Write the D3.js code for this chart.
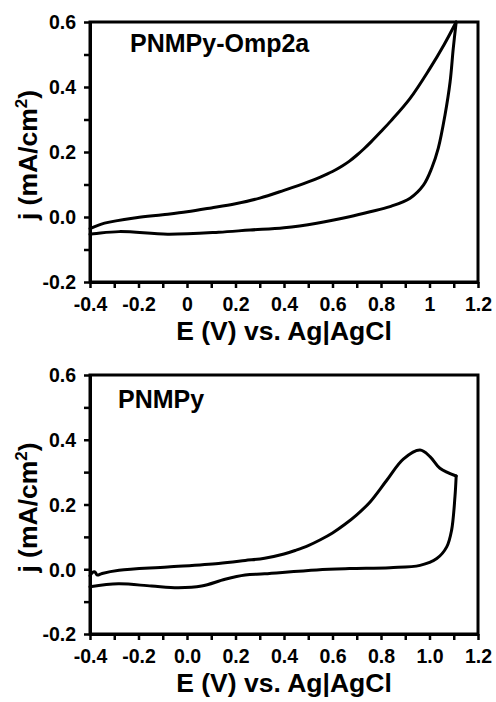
<!DOCTYPE html>
<html>
<head>
<meta charset="utf-8">
<script src="https://cdn.jsdelivr.net/npm/d3@7"></script>
<style>
  html, body { margin: 0; padding: 0; background: #fff; }
  svg { display: block; }
</style>
</head>
<body>
<svg id="chart" width="496" height="702"></svg>
<script>
// ---------- DATA ----------
// Panel A: PNMPy-Omp2a
const omp_forwardE = [-0.4, -0.34, -0.21, -0.1, 0.0, 0.1, 0.2, 0.3, 0.4, 0.5, 0.55, 0.6, 0.64, 0.67, 0.7, 0.73, 0.76, 0.8, 0.84, 0.92, 1.0, 1.06, 1.11];
const omp_forwardJ = [-0.036, -0.019, -0.002, 0.007, 0.016, 0.028, 0.041, 0.058, 0.082, 0.108, 0.123, 0.14, 0.157, 0.172, 0.19, 0.21, 0.232, 0.263, 0.295, 0.365, 0.455, 0.53, 0.6];
const omp_reverseE = [1.11, 1.098, 1.085, 1.064, 1.036, 1.009, 0.975, 0.92, 0.837, 0.755, 0.67, 0.535, 0.4, 0.26, 0.13, -0.08, -0.28, -0.4];
const omp_reverseJ = [0.6, 0.519, 0.416, 0.314, 0.211, 0.15, 0.098, 0.058, 0.032, 0.016, 0.001, -0.019, -0.033, -0.04, -0.047, -0.053, -0.045, -0.053];

// Panel B: PNMPy
const pnm_forwardE = [-0.4, -0.39, -0.38, -0.37, -0.35, -0.28, -0.08, 0.13, 0.24, 0.32, 0.4, 0.45, 0.5, 0.55, 0.6, 0.65, 0.7, 0.755, 0.823, 0.892, 0.961, 1.002, 1.043, 1.11];
const pnm_forwardJ = [-0.02, -0.01, -0.008, -0.018, -0.013, -0.003, 0.007, 0.018, 0.027, 0.034, 0.047, 0.059, 0.073, 0.091, 0.112, 0.138, 0.168, 0.208, 0.274, 0.34, 0.368, 0.348, 0.312, 0.288];
const pnm_reverseE = [1.11, 1.105, 1.091, 1.071, 1.03, 0.961, 0.837, 0.67, 0.535, 0.32, 0.24, 0.157, 0.06, -0.036, -0.146, -0.283, -0.4];
const pnm_reverseJ = [0.288, 0.224, 0.12, 0.069, 0.033, 0.012, 0.005, 0.002, -0.002, -0.014, -0.018, -0.031, -0.052, -0.057, -0.052, -0.045, -0.054];

// Ticks
const xMajorTicks = [-0.4, -0.2, 0.0, 0.2, 0.4, 0.6, 0.8, 1.0, 1.2];
const xMinorTicks = [-0.3, -0.1, 0.1, 0.3, 0.5, 0.7, 0.9, 1.1];
const topXTickLabels = ["-0.4", "-0.2", "0", "0.2", "0.4", "0.6", "0.8", "1", "1.2"];
const bottomXTickLabels = ["-0.4", "-0.2", "0.0", "0.2", "0.4", "0.6", "0.8", "1.0", "1.2"];
const yMajorTicks = [-0.2, 0.0, 0.2, 0.4, 0.6];
const yMinorTicks = [-0.1, 0.1, 0.3, 0.5];
const yTickLabels = ["-0.2", "0.0", "0.2", "0.4", "0.6"];

const panelTitles = ["PNMPy-Omp2a", "PNMPy"];
const xAxisTitle = "E (V) vs. Ag|AgCl";
const yAxisTitleParts = ["j (mA/cm", "2", ")"];

// ---------- DRAW ----------
const FONT = "'Liberation Sans', Arial, Helvetica, sans-serif";
const svg = d3.select("#chart");
const X0 = 90, X1 = 478;

function drawPanel(cfg) {
  const x = d3.scaleLinear().domain([-0.4, 1.2]).range([X0, X1]);
  const y = d3.scaleLinear().domain([-0.2, 0.6]).range([cfg.bottom, cfg.top]);
  const g = svg.append("g");

  // curves
  const line = d3.line()
    .x(d => x(d[0])).y(d => y(d[1]))
    .curve(d3.curveCatmullRom.alpha(0.5));
  [[cfg.fE, cfg.fJ], [cfg.rE, cfg.rJ]].forEach(([E, J]) => {
    g.append("path")
      .datum(E.map((e, i) => [e, J[i]]))
      .attr("d", line)
      .attr("fill", "none")
      .attr("stroke", "#000")
      .attr("stroke-width", 3)
      .attr("stroke-linejoin", "round")
      .attr("stroke-linecap", "round");
  });

  // frame
  g.append("rect")
    .attr("x", X0).attr("y", cfg.top)
    .attr("width", X1 - X0).attr("height", cfg.bottom - cfg.top)
    .attr("fill", "none").attr("stroke", "#000").attr("stroke-width", 3);

  // x axis
  const xMinor = g.append("g").attr("transform", `translate(0,${cfg.bottom})`)
    .call(d3.axisBottom(x).tickValues(xMinorTicks).tickSize(6).tickSizeOuter(0).tickFormat(""));
  const xMajor = g.append("g").attr("transform", `translate(0,${cfg.bottom})`)
    .call(d3.axisBottom(x).tickValues(xMajorTicks).tickSize(6).tickSizeOuter(0)
      .tickFormat((d, i) => cfg.xLabels[i]));
  // y axis
  const yMinor = g.append("g").attr("transform", `translate(${X0},0)`)
    .call(d3.axisLeft(y).tickValues(yMinorTicks).tickSize(6).tickSizeOuter(0).tickFormat(""));
  const yMajor = g.append("g").attr("transform", `translate(${X0},0)`)
    .call(d3.axisLeft(y).tickValues(yMajorTicks).tickSize(6).tickSizeOuter(0)
      .tickFormat((d, i) => yTickLabels[i]));

  [xMinor, xMajor, yMinor, yMajor].forEach(a => {
    a.select(".domain").attr("stroke-width", 3).attr("stroke", "#000");
    a.selectAll(".tick line").attr("stroke-width", 2.5).attr("stroke", "#000");
  });
  xMajor.selectAll(".tick text")
    .attr("y", 29).attr("dy", 0)
    .attr("font-family", FONT).attr("font-weight", "bold").attr("font-size", 19.5)
    .attr("fill", "#000");
  yMajor.selectAll(".tick text")
    .attr("x", -14).attr("dy", "0.35em")
    .attr("font-family", FONT).attr("font-weight", "bold").attr("font-size", 19.5)
    .attr("fill", "#000");

  // axis titles
  g.append("text")
    .attr("x", (X0 + X1) / 2).attr("y", cfg.bottom + 58)
    .attr("text-anchor", "middle")
    .attr("font-family", FONT).attr("font-weight", "bold").attr("font-size", 26.5)
    .text(xAxisTitle);
  const yt = g.append("text")
    .attr("transform", `translate(37,${(cfg.top + cfg.bottom) / 2 + 3}) rotate(-90)`)
    .attr("text-anchor", "middle")
    .attr("font-family", FONT).attr("font-weight", "bold").attr("font-size", 26.5);
  yt.append("tspan").text(yAxisTitleParts[0]);
  yt.append("tspan").attr("dy", -10).attr("font-size", 17).text(yAxisTitleParts[1]);
  yt.append("tspan").attr("dy", 10).text(yAxisTitleParts[2]);

  // panel title
  g.append("text")
    .attr("x", cfg.labelX).attr("y", cfg.top + cfg.labelDy)
    .attr("font-family", FONT).attr("font-weight", "bold").attr("font-size", 25)
    .text(cfg.title);
}

drawPanel({ top: 22, bottom: 282, fE: omp_forwardE, fJ: omp_forwardJ, rE: omp_reverseE, rJ: omp_reverseJ,
  xLabels: topXTickLabels, title: panelTitles[0], labelX: 130, labelDy: 30 });
drawPanel({ top: 375, bottom: 634, fE: pnm_forwardE, fJ: pnm_forwardJ, rE: pnm_reverseE, rJ: pnm_reverseJ,
  xLabels: bottomXTickLabels, title: panelTitles[1], labelX: 118, labelDy: 33 });
</script>
</body>
</html>
